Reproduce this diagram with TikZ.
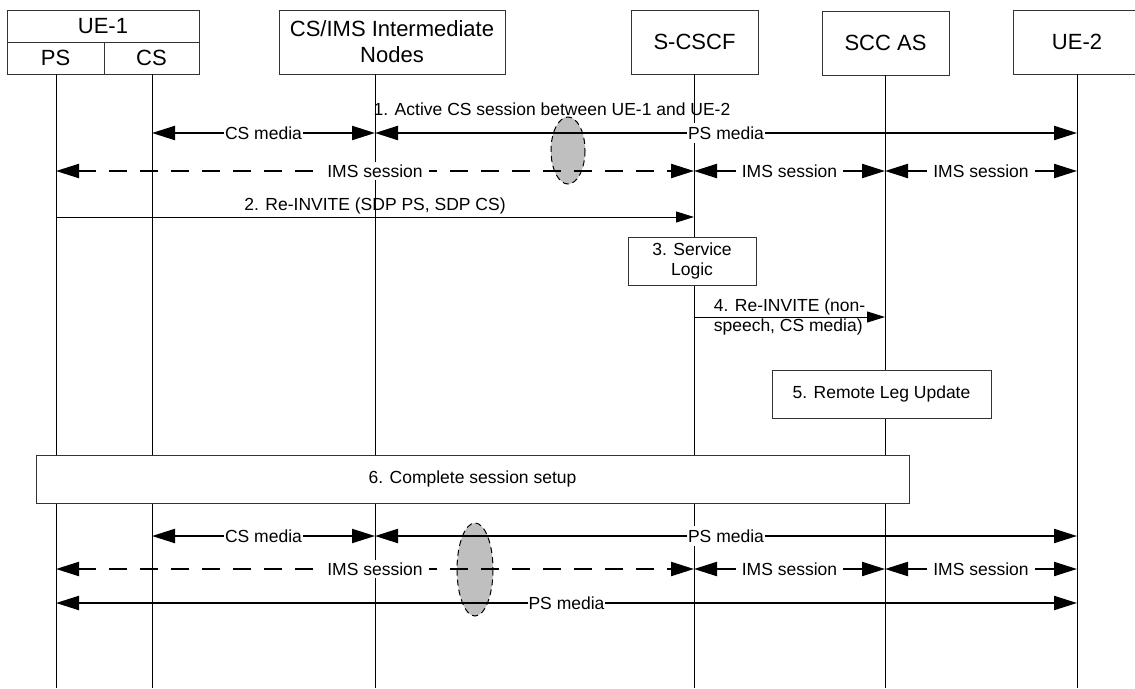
\documentclass[tikz,border=0pt]{standalone}
\usepackage{fontspec}
\setmainfont{Liberation Sans}
\usetikzlibrary{arrows.meta,positioning,calc}
\tikzset{
  >=stealth,
  every picture/.style={line width=1pt},
  hdrfont/.style={font=\fontsize{22}{26}\selectfont},
  lblfont/.style={font=\fontsize{17.5}{20}\selectfont},
  hdr/.style={draw=black!80, fill=white, hdrfont, align=center, inner sep=0pt,
    minimum height=64pt},
  cell/.style={draw=black!80, fill=white, hdrfont, inner sep=0pt, minimum height=32pt},
  stepbox/.style={draw=black!80, fill=white, lblfont, align=center, inner sep=0pt,
    minimum height=48pt},
  lbl/.style={lblfont, inner sep=2pt},
  tag/.style={lblfont, fill=white, inner xsep=1pt, inner ysep=4pt},
  imstag/.style={lblfont, fill=white, inner xsep=6pt, inner ysep=3pt},
  media/.style={{Triangle[length=23pt,width=14pt]}-{Triangle[length=23pt,width=14pt]},
    line width=2.2pt},
  imsdash/.style={media, dash pattern=on 18pt off 13pt},
  msg/.style={-{Triangle[length=18pt,width=11pt]}, line width=1pt},
  overlap/.style={draw, fill=black!25, dash pattern=on 6pt off 4pt, line width=1pt}
}

\begin{document}
\begin{tikzpicture}[x=1pt, y=-1pt]
  \useasboundingbox (0,0) rectangle (1135,688);

  % entities
  \node[cell, minimum width=192pt] (ue1) at (103,26) {UE-1};
  \node[cell, minimum width=97pt] (ps) at (55.5,58) {PS};
  \node[cell, minimum width=95pt] (cs) at (151.5,58) {CS};
  \node[hdr, minimum width=226pt] (csims) at (392,42) {CS/IMS Intermediate\\Nodes};
  \node[hdr, minimum width=127pt] (scscf) at (694.5,42) {S-CSCF};
  \node[hdr, minimum width=127pt] (sccas) at (885.5,43) {SCC AS};
  \node[hdr, minimum width=128pt] (ue2) at (1077,42) {UE-2};

  % lifelines
  \coordinate (Lps) at (56,74);
  \coordinate (Lcs) at (152,74);
  \coordinate (Lcsims) at (375,74);
  \coordinate (Lscscf) at (694,74);
  \coordinate (Lsccas) at (885,75);
  \coordinate (Lue2) at (1077,74);
  \coordinate (bot) at (0,688);
  \foreach \n in {Lps,Lcs,Lcsims,Lscscf,Lsccas,Lue2}
    \draw (\n) -- (\n |- bot);

  % rows
  \coordinate (rA) at (0,133);
  \coordinate (rB) at (0,171);
  \coordinate (r2) at (0,217);
  \coordinate (r4) at (0,317);
  \coordinate (rC) at (0,536);
  \coordinate (rD) at (0,569);
  \coordinate (rE) at (0,603);

  \draw[overlap] (568,150.5) ellipse [x radius=17, y radius=33.5];
  \draw[overlap] (475,569.5) ellipse [x radius=18, y radius=46.5];

  % 1. active session
  \node[lbl] (act) at (552,109) {1. Active CS session between UE-1 and UE-2};
  \draw[media] (Lcs |- rA) -- node[tag] (csmA) {CS media} (Lcsims |- rA);
  \draw[media] (Lcsims |- rA) -- node[tag] (psmA) {PS media} (Lue2 |- rA);
  \draw[imsdash] (Lps |- rB) -- node[imstag] (imsB1) {IMS session} (Lscscf |- rB);
  \draw[media] (Lscscf |- rB) -- node[imstag] (imsB2) {IMS session} (Lsccas |- rB);
  \draw[media] (Lsccas |- rB) -- node[imstag] (imsB3) {IMS session} (Lue2 |- rB);

  % 2.-5.
  \draw[msg] (Lps |- r2) -- node[lbl, above] (reinv) {2. Re-INVITE (SDP PS, SDP CS)} (Lscscf |- r2);
  \node[stepbox, minimum width=128pt] (svc) at (692,261) {3. Service\\Logic};
  \draw[msg] (Lscscf |- r4) -- node[lbl, align=left] (reinv4) {4. Re-INVITE (non-\\speech, CS media)} (Lsccas |- r4);
  \node[stepbox, minimum width=219pt] (rlu) at (881.5,394) {5. Remote Leg Update};

  % 6. complete
  \node[stepbox, minimum width=873pt] (done) at (472.5,479) {6. Complete session setup};
  \draw[media] (Lcs |- rC) -- node[tag] (csmC) {CS media} (Lcsims |- rC);
  \draw[media] (Lcsims |- rC) -- node[tag] (psmC) {PS media} (Lue2 |- rC);
  \draw[imsdash] (Lps |- rD) -- node[imstag] (imsD1) {IMS session} (Lscscf |- rD);
  \draw[media] (Lscscf |- rD) -- node[imstag] (imsD2) {IMS session} (Lsccas |- rD);
  \draw[media] (Lsccas |- rD) -- node[imstag] (imsD3) {IMS session} (Lue2 |- rD);
  \draw[media] (Lps |- rE) -- node[tag] (psmE) {PS media} (Lue2 |- rE);
\end{tikzpicture}
\end{document}
